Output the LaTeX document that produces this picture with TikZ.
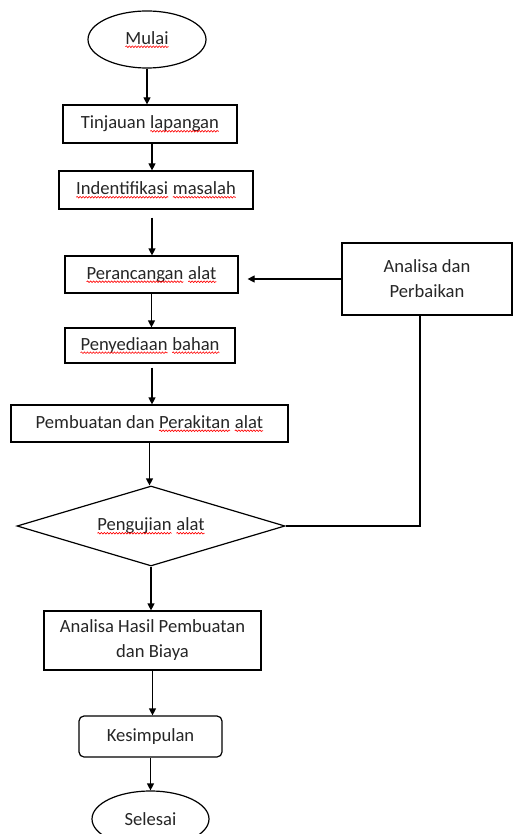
\documentclass[tikz,border=0pt]{standalone}
\usepackage{fontspec}
\setmainfont{Carlito}
\usetikzlibrary{shapes.geometric,arrows.meta,decorations.pathmorphing}
\newcommand{\spl}[1]{\tikz[baseline=(sw.base)]{\node[inner sep=0pt,outer sep=0pt,draw=none,fill=none,shape=rectangle,minimum width=0pt,minimum height=0pt](sw){#1};\draw[red,line width=0.6pt,decorate,decoration={snake,amplitude=0.8pt,segment length=3pt}] ([yshift=-2.6pt]sw.base west) -- ([yshift=-2.6pt]sw.base east);}}
\tikzset{
  base/.style={draw,line width=1.2pt,inner sep=0pt,align=center,text=black!85,font=\fontsize{18.6}{25}\selectfont},
  boxx/.style={base,rectangle},
  term/.style={base,ellipse},
  rbox/.style={base,rectangle,rounded corners=5pt},
  dec/.style={base,diamond,aspect=3.35},
  arr/.style={line width=1.2pt,-{Triangle[length=7pt,width=7pt]}},
  ln/.style={line width=1.2pt}
}
\begin{document}
\begin{tikzpicture}[x=1pt,y=-1pt]
\useasboundingbox (0,0) rectangle (513,834);
\node[term,minimum width=118pt,minimum height=57pt] (mulai) at (147,39.5) {\spl{Mulai}};
\node[boxx,minimum width=174pt,minimum height=38pt] (tinjauan) at (150,124) {Tinjauan \spl{lapangan}};
\node[boxx,minimum width=194pt,minimum height=38pt] (ident) at (156,190) {\spl{Indentifikasi} \spl{masalah}};
\node[boxx,minimum width=173pt,minimum height=37pt] (peranc) at (151.5,274.5) {\spl{Perancangan} \spl{alat}};
\node[boxx,minimum width=170pt,minimum height=72pt] (anal) at (427,279) {Analisa dan\\Perbaikan};
\node[boxx,minimum width=170pt,minimum height=35pt] (penyed) at (150,345.5) {\spl{Penyediaan} \spl{bahan}};
\node[boxx,minimum width=277pt,minimum height=37pt] (pemb) at (149.5,423.5) {Pembuatan dan \spl{Perakitan} \spl{alat}};
\node[dec,minimum width=268pt,minimum height=80pt] (uji) at (151,526) {\spl{Pengujian} \spl{alat}};
\node[boxx,minimum width=217pt,minimum height=59pt] (hasil) at (152.5,640.5) {Analisa Hasil Pembuatan\\dan Biaya};
\node[rbox,minimum width=143pt,minimum height=41pt] (kesim) at (150.5,736.5) {Kesimpulan};
\node[term,minimum width=117pt,minimum height=56pt] (selesai) at (150.5,819) {Selesai};
\draw[arr] (mulai.south) -- (mulai.south |- tinjauan.north);
\draw[arr] ([xshift=2pt]tinjauan.south) -- ([xshift=2pt]tinjauan.south |- ident.north);
\draw[arr] ([xshift=-4pt,yshift=-8pt]ident.south) -- ([xshift=-4pt]ident.south |- peranc.north);
\draw[arr] (peranc.south) -- (peranc.south |- penyed.north);
\draw[arr] ([xshift=2pt,yshift=-4pt]penyed.south) -- ([xshift=2pt]penyed.south |- pemb.north);
\draw[arr] (pemb.south) -- (pemb.south |- uji.north);
\draw[arr] (uji.south) -- (uji.south |- hasil.north);
\draw[arr] (hasil.south) -- (hasil.south |- kesim.north);
\draw[arr] (kesim.south) -- (kesim.south |- selesai.north);
\draw[arr] (anal.west) -- ([xshift=9pt]anal.west -| peranc.east);
\draw[ln] (uji.east) -| ([xshift=-7pt]anal.south);
\end{tikzpicture}
\end{document}
